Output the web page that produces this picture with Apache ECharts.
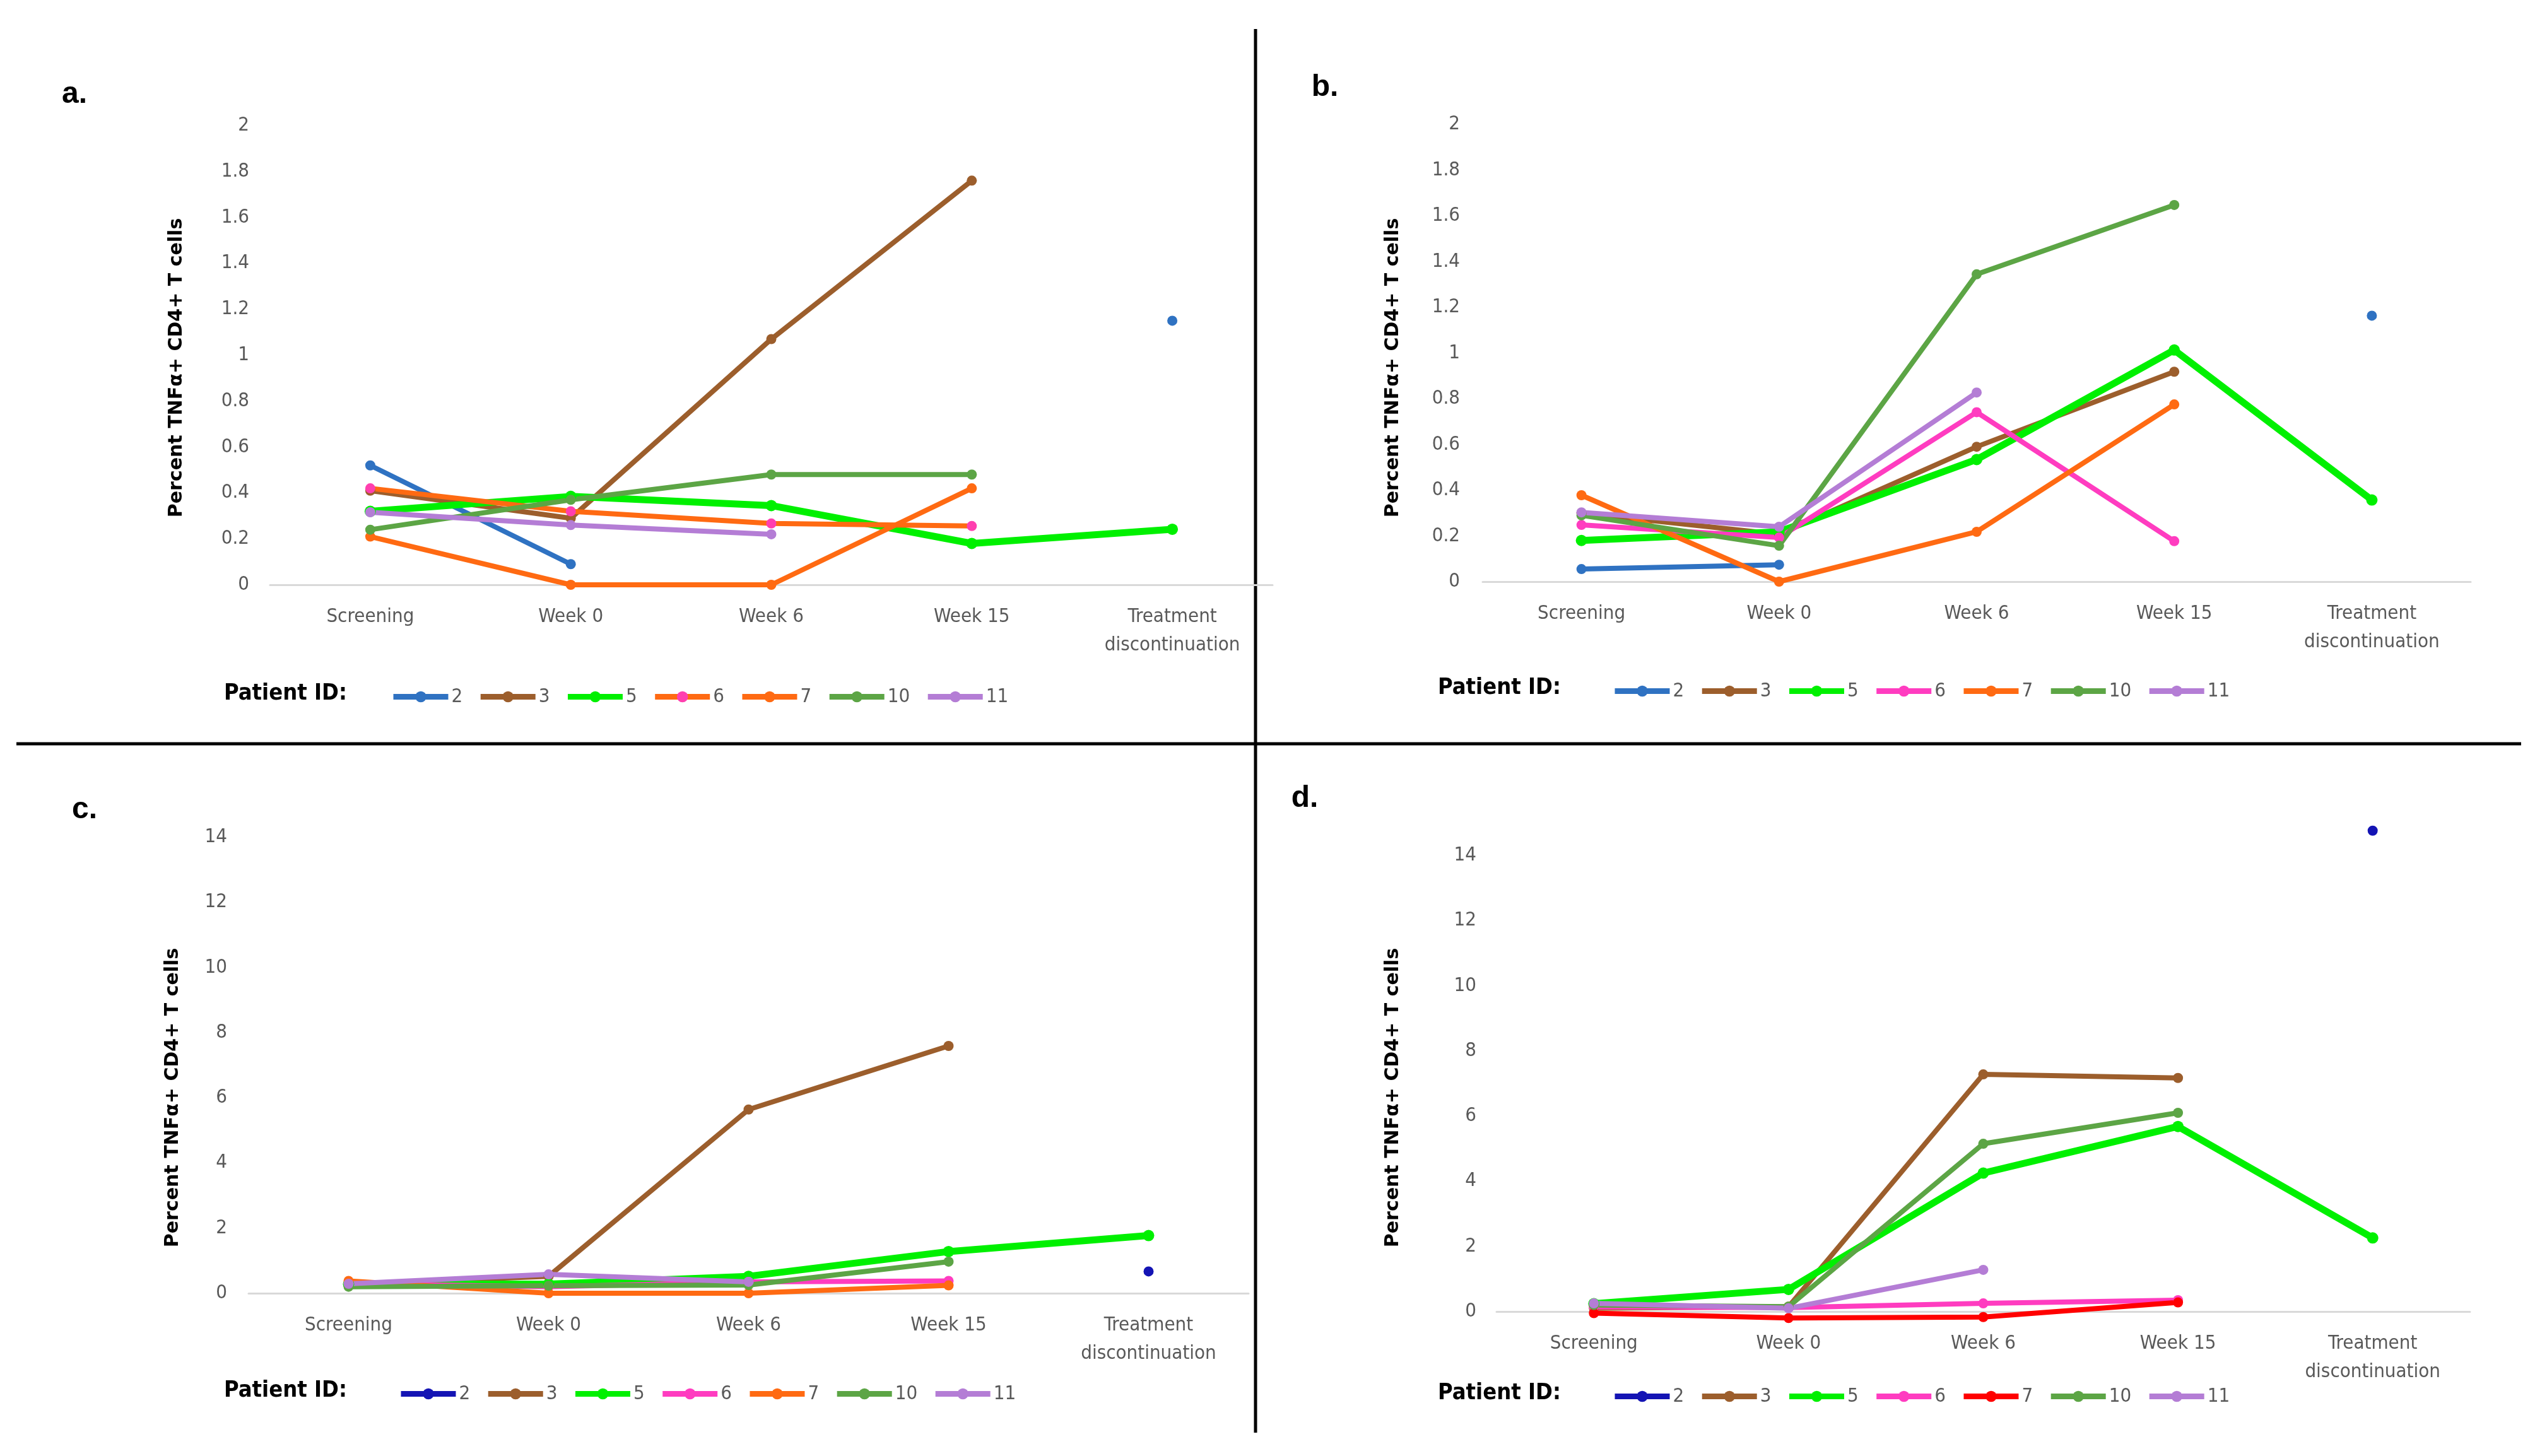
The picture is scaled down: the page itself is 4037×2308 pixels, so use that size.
<!DOCTYPE html>
<html>
<head>
<meta charset="utf-8">
<script src="https://cdn.jsdelivr.net/npm/echarts@6/dist/echarts.min.js"></script>
<style>
html,body{margin:0;padding:0;background:#fff;}
#chart{width:4037px;height:2308px;}
</style>
</head>
<body>
<div id="chart"></div>
<script>
// ---------- data ----------
const categories = ['Screening', 'Week 0', 'Week 6', 'Week 15', 'Treatment\ndiscontinuation'];
const patientIds = ['2', '3', '5', '6', '7', '10', '11'];
const yTicksAB = [0, 2, 0.2];   // min, max, interval
const yTicksCD = [0, 14, 2];

// rows follow patientIds order
const panelAValues = [
  [0.52, 0.09, null, null, 1.15],
  [0.41, 0.29, 1.07, 1.76, null],
  [0.32, 0.385, 0.345, 0.18, 0.242],
  [0.42, 0.32, 0.267, 0.256, null],
  [0.21, 0, 0, 0.42, null],
  [0.24, 0.37, 0.48, 0.48, null],
  [0.316, 0.26, 0.22, null, null]
];
const panelBValues = [
  [0.055, 0.074, null, null, 1.163],
  [0.30, 0.207, 0.59, 0.918, null],
  [0.18, 0.218, 0.534, 1.013, 0.357],
  [0.248, 0.193, 0.741, 0.177, null],
  [0.378, 0, 0.218, 0.775, null],
  [0.29, 0.157, 1.344, 1.647, null],
  [0.303, 0.24, 0.827, null, null]
];
const panelCValues = [
  [null, null, null, null, 0.67],
  [0.28, 0.52, 5.64, 7.59, null],
  [0.28, 0.28, 0.52, 1.28, 1.77],
  [0.3, 0.2, 0.35, 0.38, null],
  [0.38, 0, 0, 0.24, null],
  [0.2, 0.23, 0.25, 0.97, null],
  [0.29, 0.58, 0.35, null, null]
];
const panelDValues = [
  [null, null, null, null, 14.76],
  [0.1, 0.15, 7.28, 7.17, null],
  [0.24, 0.68, 4.25, 5.68, 2.26],
  [0.14, 0.12, 0.25, 0.35, null],
  [-0.05, -0.2, -0.17, 0.28, null],
  [0.2, 0.15, 5.15, 6.1, null],
  [0.25, 0.1, 1.28, null, null]
];

// ---------- styles ----------
const lineColorsA = ['#2F72C2', '#9C5E2C', '#00F000', '#FF6A12', '#FF6A12', '#5CA545', '#B47DD5'];
const markColorsA = ['#2F72C2', '#9C5E2C', '#00F000', '#FF3FAF', '#FF6A12', '#5CA545', '#B47DD5'];
const colorsB = ['#2F72C2', '#9C5E2C', '#00F000', '#FF3CC0', '#FF6A12', '#5CA545', '#B47DD5'];
const colorsC = ['#1414B4', '#9C5E2C', '#00F000', '#FF3CC0', '#FF6A12', '#5CA545', '#B47DD5'];
const colorsD = ['#1414B4', '#9C5E2C', '#00F000', '#FF3CC0', '#FF0000', '#5CA545', '#B47DD5'];

const narrow = '"Liberation Sans Narrow", "DejaVu Sans Condensed", "Roboto Condensed", sans-serif';
const gray = '#595959';

const panels = [
  {key: 'a', values: panelAValues, lineColors: lineColorsA, markColors: markColorsA, ticks: yTicksAB,
   grid: {left: 428, top: 199, width: 1589, height: 728}, labelMargin: 33,
   legend: {left: 618, top: 1100}, patient: [355, 1100], title: [118, 150], ytitle: [280, 583]},
  {key: 'b', values: panelBValues, lineColors: colorsB, markColors: colorsB, ticks: yTicksAB,
   grid: {left: 2350, top: 197, width: 1566, height: 725}, labelMargin: 36,
   legend: {left: 2554, top: 1091}, patient: [2279, 1091], title: [2100, 139], ytitle: [2208, 583]},
  {key: 'c', values: panelCValues, lineColors: colorsC, markColors: colorsC, ticks: yTicksCD,
   grid: {left: 394, top: 1327, width: 1585, height: 723}, labelMargin: 34,
   legend: {left: 630, top: 2205}, patient: [355, 2205], title: [134, 1284], ytitle: [274, 1740]},
  {key: 'd', values: panelDValues, lineColors: colorsD, markColors: colorsD, ticks: yTicksCD,
   grid: {left: 2372, top: 1356, width: 1543, height: 723}, labelMargin: 32,
   legend: {left: 2554, top: 2209}, patient: [2279, 2209], title: [2068, 1266], ytitle: [2208, 1740]}
];

const grids = [], xAxes = [], yAxes = [], series = [], legends = [], graphics = [];

panels.forEach((p, pi) => {
  grids.push(Object.assign({containLabel: false}, p.grid));
  xAxes.push({
    type: 'category', gridIndex: pi, data: categories, boundaryGap: true,
    axisLine: {lineStyle: {color: '#D9D9D9', width: 3}},
    axisTick: {show: false},
    axisLabel: {color: gray, fontSize: 31, fontFamily: narrow, lineHeight: 45, margin: 28, interval: 0}
  });
  yAxes.push({
    type: 'value', gridIndex: pi, min: p.ticks[0], max: p.ticks[1], interval: p.ticks[2],
    axisLine: {show: false}, axisTick: {show: false}, splitLine: {show: false},
    axisLabel: {color: gray, fontSize: 31, fontFamily: narrow, margin: p.labelMargin}
  });
  const names = [];
  patientIds.forEach((id, si) => {
    const name = p.key + id;
    names.push(name);
    const isFive = id === '5';
    series.push({
      name: name, type: 'line', xAxisIndex: pi, yAxisIndex: pi,
      data: p.values[si], clip: false, connectNulls: false,
      symbol: 'circle', symbolSize: isFive ? 18 : 16, showSymbol: true,
      lineStyle: {color: p.lineColors[si], width: isFive ? 11 : 8},
      itemStyle: {color: p.markColors[si], borderWidth: 0},
      emphasis: {disabled: true}, animation: false
    });
  });
  legends.push({
    data: names, left: p.legend.left - 4, top: p.legend.top - 16, orient: 'horizontal',
    itemWidth: 87, itemHeight: 22, itemGap: 24,
    lineStyle: {width: 9},
    formatter: n => n.slice(1),
    textStyle: {color: gray, fontSize: 31, fontFamily: narrow, padding: [0, 0, 0, 0]},
    selectedMode: false
  });
  graphics.push({
    type: 'text', x: p.patient[0], y: p.patient[1],
    style: {text: 'Patient ID:', fill: '#000', font: 'bold 36px ' + narrow, verticalAlign: 'middle', align: 'left'}
  });
  graphics.push({
    type: 'text', x: p.title[0], y: p.title[1],
    style: {text: p.key + '.', fill: '#000', font: 'bold 48px "Liberation Sans", sans-serif', verticalAlign: 'middle', align: 'center'}
  });
  graphics.push({
    type: 'text', x: p.ytitle[0], y: p.ytitle[1], rotation: Math.PI / 2,
    style: {text: 'Percent TNFα+ CD4+ T cells', fill: '#000', font: 'bold 30px "DejaVu Sans", sans-serif', verticalAlign: 'middle', align: 'center'}
  });
});

// dividers
graphics.push({type: 'line', shape: {x1: 1990, y1: 46, x2: 1990, y2: 2271}, style: {stroke: '#000', lineWidth: 5}});
graphics.push({type: 'line', shape: {x1: 26, y1: 1179, x2: 3996, y2: 1179}, style: {stroke: '#000', lineWidth: 5}});

const chart = echarts.init(document.getElementById('chart'), null, {renderer: 'canvas'});
chart.setOption({
  animation: false,
  backgroundColor: '#ffffff',
  grid: grids, xAxis: xAxes, yAxis: yAxes, series: series, legend: legends, graphic: graphics
});
</script>
</body>
</html>
